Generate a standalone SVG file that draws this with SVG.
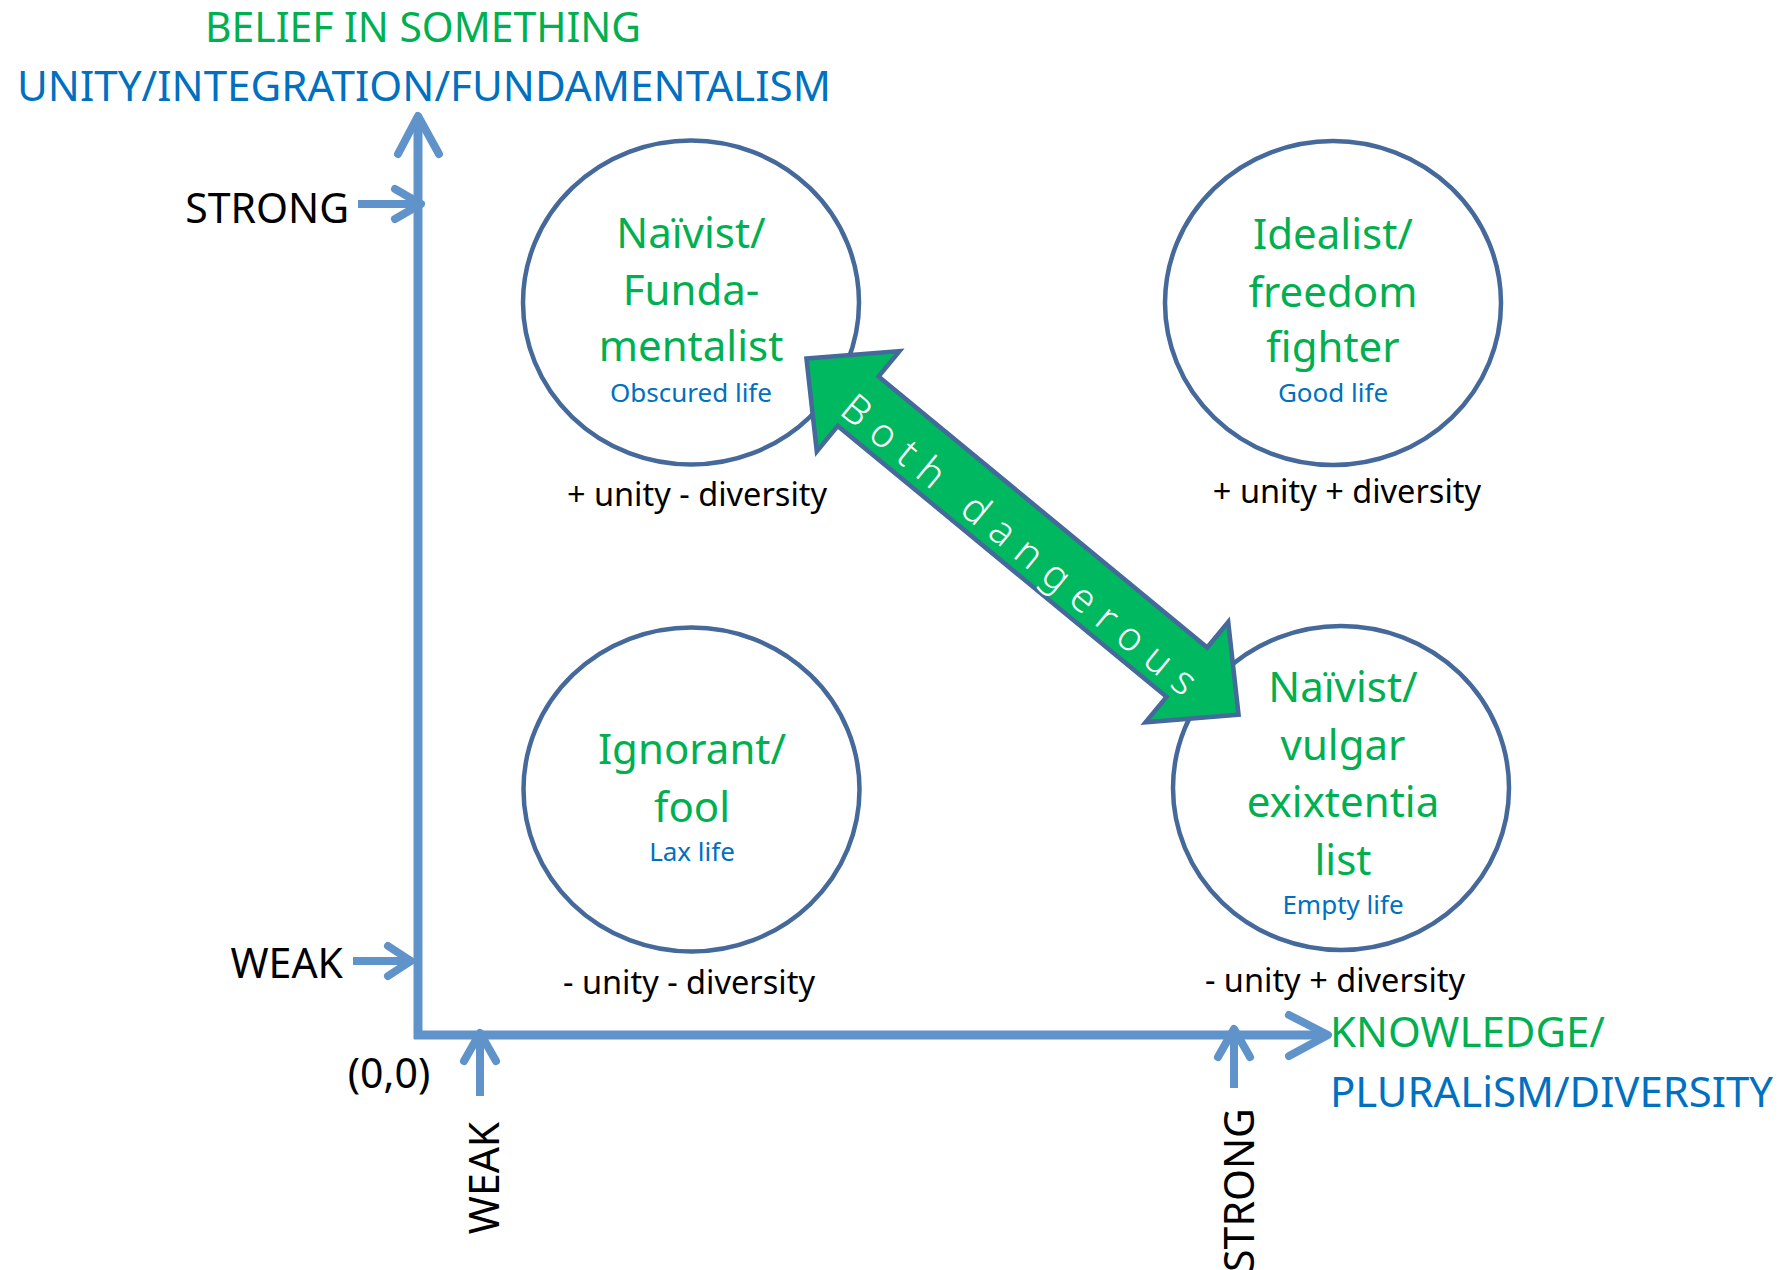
<svg xmlns="http://www.w3.org/2000/svg" width="1784" height="1270" viewBox="0 0 1784 1270">
<style>
text{font-family:"Noto Sans","Liberation Sans",sans-serif}
.g{fill:#00b050}
.b{fill:#0070c0}
.k{fill:#000}
.title{font-size:42px;text-anchor:middle}
.sub{font-size:26px;text-anchor:middle;fill:#0070c0}
.lab{font-size:32.5px;text-anchor:middle;fill:#000}
.ax{font-size:41px}
.node{fill:#fff;stroke:#44699a;stroke-width:4.5}
.axis{fill:none;stroke:#5f93c9;stroke-width:9}
.tick{fill:none;stroke:#5f93c9;stroke-width:8;stroke-linecap:round;stroke-linejoin:round}
.tickline{fill:none;stroke:#5f93c9;stroke-width:8}
</style>
<rect width="1784" height="1270" fill="#fff"/>

<g id="axis-labels">
<text class="g" x="423" y="42" font-size="42" text-anchor="middle" textLength="436" lengthAdjust="spacingAndGlyphs">BELIEF IN SOMETHING</text>
<text class="b" x="17" y="101" font-size="42" textLength="814" lengthAdjust="spacingAndGlyphs">UNITY/INTEGRATION/FUNDAMENTALISM</text>
<text class="g" x="1330" y="1047" font-size="42" textLength="275" lengthAdjust="spacingAndGlyphs">KNOWLEDGE/</text>
<text class="b" x="1330" y="1107" font-size="42" textLength="443" lengthAdjust="spacingAndGlyphs">PLURALiSM/DIVERSITY</text>
<text class="k ax" x="349" y="223" text-anchor="end">STRONG</text>
<text class="k ax" x="343" y="978" text-anchor="end">WEAK</text>
<text class="k ax" x="389" y="1088" text-anchor="middle">(0,0)</text>
<text class="k ax" transform="translate(499,1178) rotate(-90)" text-anchor="middle">WEAK</text>
<text class="k ax" transform="translate(1254,1190) rotate(-90)" text-anchor="middle">STRONG</text>
</g>

<g id="connectors">
<path class="axis" d="M418,1039 V118"/>
<path class="axis" d="M414,1035 H1324"/>
<polyline class="tick" points="398,154 418,116 439,154"/>
<polyline class="tick" points="1289,1015 1328,1035 1289,1056"/>
<path class="tickline" d="M358,204 H420"/>
<polyline class="tick" points="395,189 421,204 395,219"/>
<path class="tickline" d="M353,961 H411"/>
<polyline class="tick" points="388,946 411,961 388,976"/>
<path class="tickline" d="M480,1096 V1034"/>
<polyline class="tick" points="464,1061 480,1033 496,1061"/>
<path class="tickline" d="M1234,1088 V1030"/>
<polyline class="tick" points="1218,1057 1234,1029 1250,1057"/>
</g>

<g id="node-naivist-fundamentalist">
<ellipse class="node" cx="691" cy="302.5" rx="168" ry="162"/>
<text class="g title" x="691" y="248">Naïvist/</text>
<text class="g title" x="691" y="305">Funda-</text>
<text class="g title" x="691" y="361">mentalist</text>
<text class="sub" x="691" y="402">Obscured life</text>
<text class="lab" x="697" y="506">+ unity - diversity</text>
</g>

<g id="node-idealist">
<ellipse class="node" cx="1333" cy="303" rx="168" ry="162"/>
<text class="g title" x="1333" y="249">Idealist/</text>
<text class="g title" x="1333" y="307">freedom</text>
<text class="g title" x="1333" y="362">fighter</text>
<text class="sub" x="1333" y="402">Good life</text>
<text class="lab" x="1347" y="503">+ unity + diversity</text>
</g>

<g id="node-ignorant">
<ellipse class="node" cx="691.5" cy="789.5" rx="168" ry="162"/>
<text class="g title" x="692" y="764">Ignorant/</text>
<text class="g title" x="692" y="822">fool</text>
<text class="sub" x="692" y="861">Lax life</text>
<text class="lab" x="689" y="994">- unity - diversity</text>
</g>

<g id="node-vulgar-existentialist">
<ellipse class="node" cx="1341" cy="788" rx="168" ry="162"/>
<text class="g title" x="1343" y="702">Naïvist/</text>
<text class="g title" x="1343" y="760">vulgar</text>
<text class="g title" x="1343" y="817">exixtentia</text>
<text class="g title" x="1343" y="875">list</text>
<text class="sub" x="1343" y="914">Empty life</text>
<text class="lab" x="1335" y="992">- unity + diversity</text>
</g>

<g id="both-dangerous" transform="translate(1022.5,536.7) rotate(39.5)">
<polygon points="-280,0 -213,-65 -213,-32 213,-32 213,-65 280,0 213,65 213,32 -213,32 -213,65" fill="#00b860" stroke="#44699a" stroke-width="4.5" stroke-linejoin="miter"/>
<text x="-221" y="22" font-size="40" font-weight="300" fill="#fff" textLength="447" lengthAdjust="spacing">Both dangerous</text>
</g>
</svg>
